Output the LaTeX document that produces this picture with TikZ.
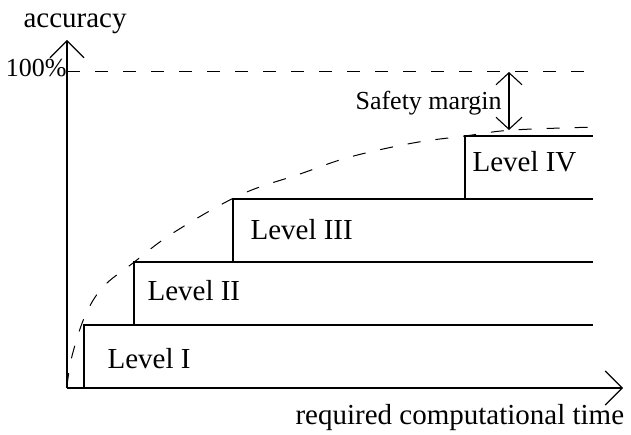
\documentclass[tikz,border=0pt]{standalone}
\usepackage{fontspec}
\setmainfont{Liberation Serif}
\usetikzlibrary{arrows.meta}
\begin{document}
\begin{tikzpicture}[x=1pt,y=-1pt,
  line width=1.1pt,
  axis/.style={-{Straight Barb[length=17pt,width=34pt,line width=1.1pt]}},
  guide/.style={dashed,dash pattern=on 13pt off 15pt,line width=1pt},
  levelbox/.style={draw=none},
  lbl/.style={anchor=base west,inner sep=0pt,font=\fontsize{29}{34}\selectfont},
  smalllbl/.style={anchor=base west,inner sep=0pt,font=\fontsize{26}{30}\selectfont},
  gap/.style={{Straight Barb[length=12pt,width=26pt,line width=1.1pt]}-{Straight Barb[length=12pt,width=26pt,line width=1.1pt]}}]
\useasboundingbox (0,0) rectangle (631,435);

% axes
\coordinate (O) at (67,388);
\coordinate (ytip) at (67,40);
\coordinate (xtip) at (623,388);
\draw[axis] (O) -- (ytip);
\draw[axis] (O) -- (xtip);
\node[lbl] (ylab) at (23,28) {accuracy};
\node[lbl] (xlab) at (295,424) {required computational time};

% 100% reference line
\coordinate (full) at (67,72);
\coordinate (fullend) at (598,72);
\node[smalllbl,anchor=base east] (pct) at (67,77) {100\%};
\draw[guide] (full) -- (fullend);

% accuracy curve
\draw[guide] plot[smooth,tension=0.6] coordinates {
  (67,386) (72,356) (85,316) (103,287) (133,263) (173,233) (240,195)
  (300,174) (350,157) (413,143) (465,136) (513,130) (598,127)};

% stair of levels
\coordinate (c1) at (84,325);  \coordinate (e1) at (593,325);
\coordinate (c2) at (134,262); \coordinate (e2) at (593,262);
\coordinate (c3) at (233,199); \coordinate (e3) at (593,199);
\coordinate (c4) at (465,136); \coordinate (e4) at (593,136);
\draw (c1 |- O) -- (c1) -- (e1);
\draw (c2 |- c1) -- (c2) -- (e2);
\draw (c3 |- c2) -- (c3) -- (e3);
\draw (c4 |- c3) -- (c4) -- (e4);
\node[lbl] (l1) at (107,368) {Level I};
\node[lbl] (l2) at (147,300) {Level II};
\node[lbl] (l3) at (250,240) {Level III};
\node[lbl] (l4) at (472,172) {Level IV};

% safety margin
\coordinate (mtop) at (509,72);
\coordinate (mbot) at (509,130);
\draw[gap] (mtop) -- (mbot);
\node[smalllbl] (sm) at (355,110) {Safety margin};
\end{tikzpicture}
\end{document}
